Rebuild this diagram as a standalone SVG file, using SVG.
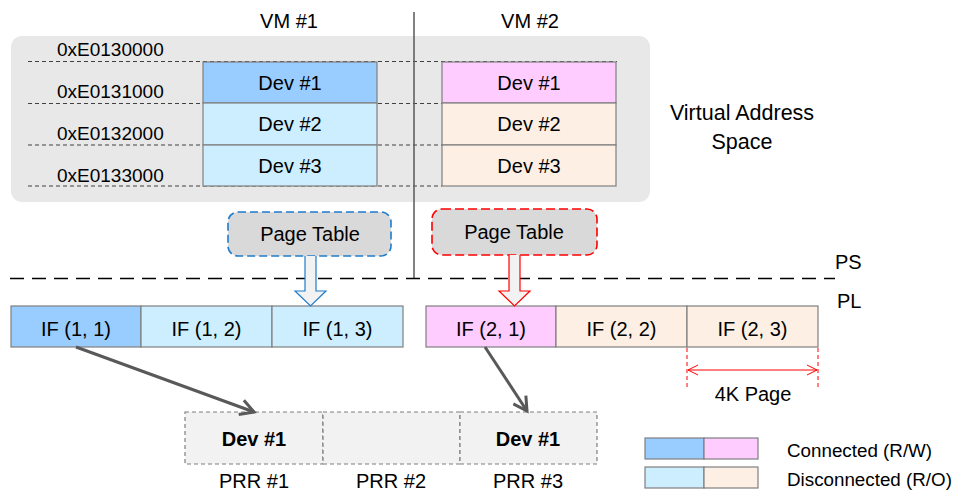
<svg xmlns="http://www.w3.org/2000/svg" width="956" height="492" viewBox="0 0 956 492">
<defs>
<style>
text{font-family:"Liberation Sans",Arial,sans-serif;font-size:20px;fill:#000}
.c{text-anchor:middle}
.b{font-weight:bold}
.addr{font-size:19px}
.leg{font-size:18.8px}
.box{stroke:#7f7f7f;stroke-width:1.2}
.cb{fill:#99ccff}
.db{fill:#cceeff}
.cp{fill:#ffccff}
.dp{fill:#fdefe4}
.dash{stroke:#404040;stroke-width:1;stroke-dasharray:4,3;fill:none}
.prr{fill:#f2f2f2;stroke:#7f7f7f;stroke-width:1.2;stroke-dasharray:4,3}
.conn{stroke:#595959;stroke-width:3;fill:none}
</style>
<marker id="chev" viewBox="0 0 12 12" refX="10" refY="6" markerWidth="6" markerHeight="6" orient="auto" markerUnits="strokeWidth">
<path d="M1,1 L10,6 L1,11" fill="none" stroke="#595959" stroke-width="2"/>
</marker>
<marker id="redA" viewBox="0 0 12 12" refX="11" refY="6" markerWidth="12" markerHeight="12" orient="auto-start-reverse" markerUnits="userSpaceOnUse">
<path d="M1,1 L11,6 L1,11" fill="none" stroke="#ff0000" stroke-width="1"/>
</marker>
</defs>

<g id="vas-background">
<rect x="11" y="36" width="639" height="166" rx="11" fill="#e8e8e8"/>
</g>

<g id="address-lines">
<line class="dash" x1="28" y1="61.5" x2="617" y2="61.5"/>
<line class="dash" x1="28" y1="103.5" x2="442" y2="103.5"/>
<line class="dash" x1="28" y1="145" x2="442" y2="145"/>
<line class="dash" x1="28" y1="186" x2="442" y2="186"/>
</g>

<g id="address-labels">
<text class="addr" x="57" y="56">0xE0130000</text>
<text class="addr" x="57" y="98">0xE0131000</text>
<text class="addr" x="57" y="140">0xE0132000</text>
<text class="addr" x="57" y="182">0xE0133000</text>
</g>

<g id="vm-labels">
<text class="c" x="289" y="28">VM #1</text>
<text class="c" x="530" y="28">VM #2</text>
<text class="c" x="742" y="120" style="font-size:21.5px">Virtual Address</text>
<text class="c" x="742" y="149" style="font-size:21.5px">Space</text>
</g>

<g id="vm1-dev1"><rect class="box cb" x="203" y="62" width="174" height="41"/><text class="c" x="290" y="90">Dev #1</text></g>
<g id="vm1-dev2"><rect class="box db" x="203" y="103" width="174" height="42"/><text class="c" x="290" y="131">Dev #2</text></g>
<g id="vm1-dev3"><rect class="box db" x="203" y="145" width="174" height="41"/><text class="c" x="290" y="173">Dev #3</text></g>

<g id="vm2-dev1"><rect class="box cp" x="442" y="62" width="174" height="41"/><text class="c" x="529" y="90">Dev #1</text></g>
<g id="vm2-dev2"><rect class="box dp" x="442" y="103" width="174" height="42"/><text class="c" x="529" y="131">Dev #2</text></g>
<g id="vm2-dev3"><rect class="box dp" x="442" y="145" width="174" height="41"/><text class="c" x="529" y="173">Dev #3</text></g>

<g id="vm-divider">
<line x1="414" y1="12" x2="414" y2="279" stroke="#595959" stroke-width="1.5"/>
</g>

<g id="ps-pl">
<line x1="10" y1="278.5" x2="835" y2="278.5" stroke="#000" stroke-width="1.5" stroke-dasharray="14,8"/>
<text x="835" y="269">PS</text>
<text x="837" y="308">PL</text>
</g>

<g id="page-table-1">
<rect x="228" y="212" width="163" height="44" rx="10" fill="#d9d9d9" stroke="#1f7ccc" stroke-width="1.6" stroke-dasharray="8,4"/>
<text class="c" x="310" y="241">Page Table</text>
</g>
<g id="page-table-2">
<rect x="432" y="209" width="165" height="46" rx="10" fill="#d9d9d9" stroke="#ff0000" stroke-width="1.6" stroke-dasharray="9,4"/>
<text class="c" x="514" y="239">Page Table</text>
</g>

<g id="if-1-1"><rect class="box cb" x="11" y="306" width="130" height="41"/><text class="c" x="76" y="336">IF (1, 1)</text></g>
<g id="if-1-2"><rect class="box db" x="141" y="306" width="131" height="41"/><text class="c" x="206.5" y="336">IF (1, 2)</text></g>
<g id="if-1-3"><rect class="box db" x="272" y="306" width="131" height="41"/><text class="c" x="337.5" y="336">IF (1, 3)</text></g>
<g id="if-2-1"><rect class="box cp" x="426" y="306" width="130" height="41"/><text class="c" x="491" y="336">IF (2, 1)</text></g>
<g id="if-2-2"><rect class="box dp" x="556" y="306" width="131" height="41"/><text class="c" x="621.5" y="336">IF (2, 2)</text></g>
<g id="if-2-3"><rect class="box dp" x="687" y="306" width="131" height="41"/><text class="c" x="752.5" y="336">IF (2, 3)</text></g>

<g id="prr-1"><rect class="prr" x="185" y="412" width="138" height="52"/><text class="c b" x="254" y="446">Dev #1</text><text class="c" x="254" y="488">PRR #1</text></g>
<g id="prr-2"><rect class="prr" x="323" y="412" width="137" height="52"/><text class="c" x="391" y="488">PRR #2</text></g>
<g id="prr-3"><rect class="prr" x="460" y="412" width="137" height="52"/><text class="c b" x="528" y="446">Dev #1</text><text class="c" x="528" y="488">PRR #3</text></g>

<g id="page-size">
<line x1="687" y1="348" x2="687" y2="390" stroke="#ff0000" stroke-width="1" stroke-dasharray="4,3"/>
<line x1="818" y1="348" x2="818" y2="390" stroke="#ff0000" stroke-width="1" stroke-dasharray="4,3"/>
<line x1="688" y1="370" x2="817" y2="370" stroke="#ff0000" stroke-width="1" marker-start="url(#redA)" marker-end="url(#redA)"/>
<text class="c" x="753" y="401">4K Page</text>
</g>

<g id="legend">
<rect class="box cb" x="645" y="438" width="59" height="21"/>
<rect class="box cp" x="704" y="438" width="54" height="21"/>
<rect class="box db" x="645" y="467" width="59" height="21"/>
<rect class="box dp" x="704" y="467" width="54" height="21"/>
<text class="leg" x="787" y="457">Connected (R/W)</text>
<text class="leg" x="787" y="486">Disconnected (R/O)</text>
</g>

<g id="connectors">
<path d="M305,256 V291 H295 L310.5,306 L326,291 H316 V256" fill="#f2f2f2" stroke="#1f7ccc" stroke-width="1.2"/>
<path d="M509,255 V291 H499 L514.5,306 L530,291 H520 V255" fill="#f2f2f2" stroke="#ff0000" stroke-width="1.2"/>
<line class="conn" x1="76" y1="347" x2="254" y2="412" marker-end="url(#chev)"/>
<line class="conn" x1="485" y1="347" x2="527" y2="411" marker-end="url(#chev)"/>
</g>
</svg>
